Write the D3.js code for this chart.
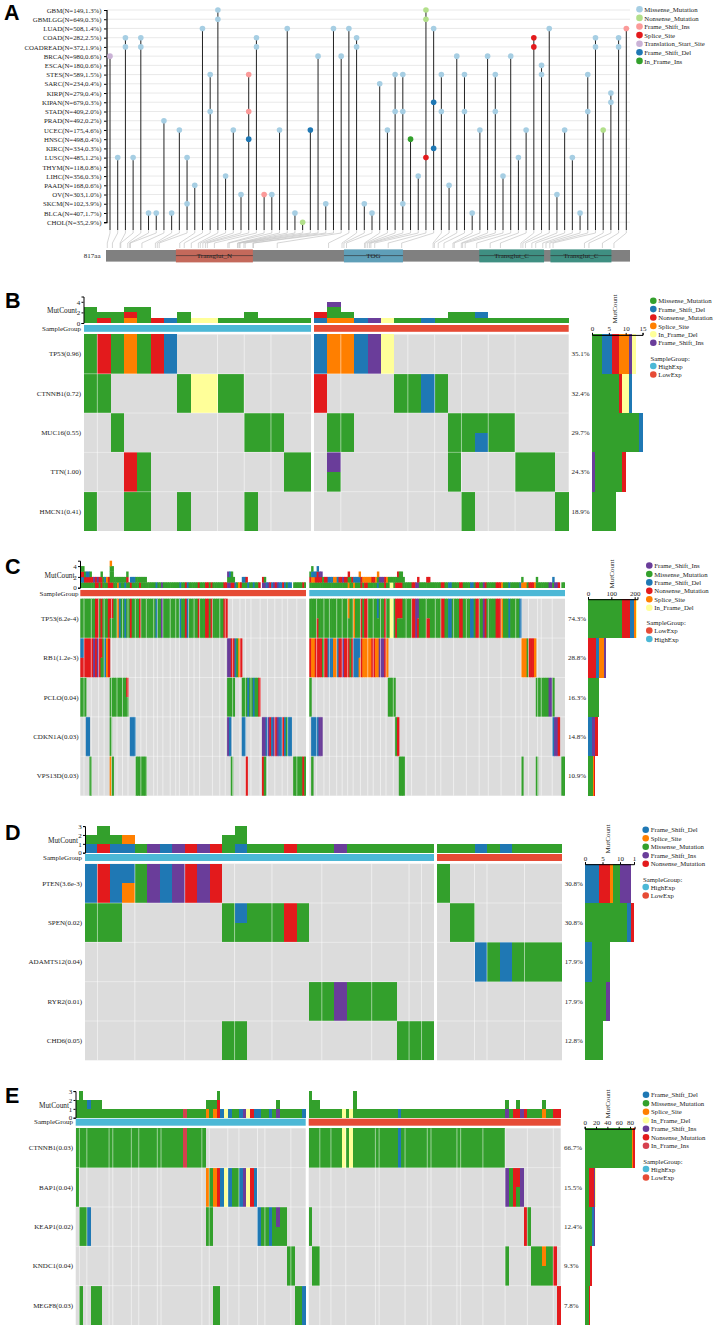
<!DOCTYPE html>
<html>
<head>
<meta charset="utf-8">
<script src="https://cdn.jsdelivr.net/npm/d3@7"></script>
<style>
  body { margin: 0; background: #fff; }
  text { font-family: "Liberation Serif", serif; fill: #222; }
  .panel-letter { font-family: "Liberation Sans", sans-serif; font-weight: bold; font-size: 21.5px; fill: #000; }
</style>
</head>
<body>
<div id="root"></div>
<script>
// ---- panel A data
const cancers = ["GBM(N=149,1.3%)", "GBMLGG(N=649,0.3%)", "LUAD(N=508,1.4%)", "COAD(N=282,2.5%)", "COADREAD(N=372,1.9%)", "BRCA(N=980,0.6%)", "ESCA(N=180,0.6%)", "STES(N=589,1.5%)", "SARC(N=234,0.4%)", "KIRP(N=279,0.4%)", "KIPAN(N=679,0.3%)", "STAD(N=409,2.0%)", "PRAD(N=492,0.2%)", "UCEC(N=175,4.6%)", "HNSC(N=498,0.4%)", "KIRC(N=334,0.3%)", "LUSC(N=485,1.2%)", "THYM(N=118,0.8%)", "LIHC(N=356,0.3%)", "PAAD(N=168,0.6%)", "OV(N=303,1.0%)", "SKCM(N=102,3.9%)", "BLCA(N=407,1.7%)", "CHOL(N=35,2.9%)"];
// one entry per lollipop column: "<cancer index><type>"
const lolliCols = ["5t", "16m", "3m 4m", "16m", "3m 4m", "22m", "22m", "12m", "22m", "13m", "16m 21m", "19m", "2m", "7m 11m", "0m 1m", "18m", "13m", "20m", "7i 11i 14d", "3m 4m", "20i", "20m", "13m", "2m", "22m", "23n", "13d", "5m", "21m", "2m", "5m", "2m", "3m 4m",
  "21m", "22m", "8m", "13m", "7m 11m", "7m 11m 21m", "14f", "18m", "0n 1n 16s", "2m 10d 15d", "7m 11m", "19m", "5m", "7m 11m", "22m", "13m", "5m", "7m 11m", "18m", "5m", "16m", "13m", "3s 4s", "6m 7m", "2m", "20m", "13m", "16m", "22m", "7m 11m", "3m 4m", "13n", "9m 10m", "3m 4m", "2i"];
const lolliAA = [2, 10, 22, 23, 34, 37, 38, 56, 77, 80, 83, 115, 122, 133, 144, 147, 151, 155, 158, 169, 190, 192, 205, 206, 208, 209, 215, 217, 229, 230, 267, 347, 368, 371, 375, 403, 405, 408, 411, 413, 419, 440, 461, 510, 512, 518, 527, 541, 543, 554, 556, 560, 578, 599, 615, 647, 650, 654, 664, 670, 681, 686, 692, 697, 746, 753, 774, 792];
const domainNames = ["Transglut_N", "TOG", "Transglut_C", "Transglut_C"];
const domainStart = [109, 371, 582, 693];
const domainEnd = [229, 463, 683, 788];
const proteinLength = 817;
const lolliLegend = [["m", "Missense_Mutation"], ["n", "Nonsense_Mutation"], ["i", "Frame_Shift_Ins"], ["s", "Splice_Site"], ["t", "Translation_Start_Site"], ["d", "Frame_Shift_Del"], ["f", "In_Frame_Ins"]];

// ---- oncoprint data: runs of "<type(s)><count>", "@n" jumps to sample n,
// two letters in a cell = top half / bottom half
const bGenes = ["TP53(0.96)", "CTNNB1(0.72)", "MUC16(0.55)", "TTN(1.00)", "HMCN1(0.41)"];
const bPct = ["35.1%", "32.4%", "29.7%", "24.3%", "18.9%"];
const bHigh = ["M1 N1 M1 S1 M1 N1 F1", "M2 @7 M1 I2 M2", "@2 M1 @12 M3", "@3 N1 M1 @15 M2", "M1 @3 M2 @7 M1 @12 M1"];
const bLow = ["F1 S2 F1 P1 I1", "N1 @6 M2 F1 M1", "@1 M2 @10 M2 MF1 M2", "@1 PM1 @10 M1 @15 M3", "@11 M1 @18 M1"];
const bSide = [["M3", "F3", "N2", "S3", "P1", "I1"], ["M8", "N1", "I2", "F1"], ["M14", "F1"], ["P1", "M8", "N1"], ["M7"]];
const bLegend = ["M", "F", "N", "S", "I", "P"];
const bGapsHigh = [1, 10, 12, 14];
const bGapsLow = [2, 7, 9, 11, 13, 15];

const cGenes = ["TP53(6.2e-4)", "RB1(1.2e-3)", "PCLO(0.04)", "CDKN1A(0.03)", "VPS13D(0.03)"];
const cPct = ["74.3%", "28.8%", "16.3%", "14.8%", "10.9%"];
const cLow = [
  "M8 N2 M1 N1 M3 N1 NM2 M2 S1 F1 M2 F1 M2 N1 M4 N1 M8 F1 M2 P1 M9 F1 M2 N1 F1 M5 N1 M3 N2 M1 N1 M4 M2 N2",
  "FN2 N5 P1 N1 P1 N1 NM1 M1 F1 S1 N1 @80 P2 N2 F1 M1 S1 N1",
  "M3 @16 M9 NM1 @80 M4 @88 M3 F1 M2 F1 M2 N1",
  "@3 F2 @16 M1 @27 F3 @80 P1 F1 @88 F2 @99 P2 F1 P1 N1 F1 P1 N1 P1 F2 N1 F1 M1 F2",
  "@5 M1 @16 S1 M1 @30 M6 @82 M1 @90 N1 @99 N1 M1 @116 M5 N1 M1"];
const cHigh = [
  "M4 MN1 M16 SM1 M2 S1 M3 N1 M1 N2 M5 FM1 M3 N1 M2 I2 M1 N1 NM3 M5 N2 P1 PN1 M4 MN2 M6 N2 M2 F2 M4 N2 M4 F2 M1 N2 M2 P1 N1 M5 N3 S1 M3 F1 M5 F1",
  "N1 S2 N4 M1 N2 F3 S2 F1 N2 P1 N1 N2 M1 N1 F3 FS1 N1 S5 N2 S2 P3 N1 S1 @116 S3 M1 N3 S1",
  "M1 @43 M4 @124 M7 P2 M1",
  "@1 F4 P2 @47 M1 N1 @133 F1 P2 N1",
  "@1 M1 @49 M3 @116 M1 @124 M1 @138 M2"];
const cSide = [["M144", "N37", "F16", "S10", "I4"], ["N36", "F10", "S21", "P11"], ["M46", "P3"], ["F17", "P14", "N11"], ["M21", "S3", "N7"]];
const cLegend = ["P", "M", "F", "N", "S", "I"];
const cGapsLow = [2, 6, 10, 13, 17, 20, 23, 26, 30, 33, 36, 40, 42, 45, 49, 52, 54, 59, 62, 65, 72, 76, 79, 83, 87, 90, 93, 98, 102, 106, 110, 113, 118];
const cGapsHigh = [4, 8, 11, 15, 18, 21, 24, 28, 32, 35, 39, 42, 46, 53, 56, 64, 69, 72, 79, 86, 93, 98, 105, 113, 116, 120, 125, 127, 133];

const dGenes = ["PTEN(3.6e-3)", "SPEN(0.02)", "ADAMTS12(0.04)", "RYR2(0.01)", "CHD6(0.05)"];
const dPct = ["30.8%", "30.8%", "17.9%", "17.9%", "12.8%"];
const dHigh = ["F1 N1 F1 FS1 M1 P1 F1 P1 N1 P1 N1", "M1 MM1 M1 @11 M1 FM1 M3 N1 M1", "", "@18 M2 P1 M4", "@11 M2 @25 M3"];
const dLow = ["M1", "@1 M2", "@3 F1 M1 F1 M4", "", ""];
const dSide = [["F4", "N3", "S1", "M2", "P3"], ["M12", "F1", "N1"], ["F2", "M5"], ["M6", "P1"], ["M5"]];
const dLegend = ["F", "S", "M", "P", "N"];
const dGapsHigh = [1, 4, 8, 12, 15, 19, 23, 26, 27];
const dGapsLow = [3, 4, 7];

const eGenes = ["CTNNB1(0.03)", "BAP1(0.04)", "KEAP1(0.02)", "KNDC1(0.04)", "MEGF8(0.03)"];
const ePct = ["66.7%", "15.5%", "12.4%", "9.3%", "7.8%"];
const eHigh = ["M29 X1 M5", "M1 @35 S1 M1 S1 NN1 F1 I1 F1 M2 F1 P1 I1 N1 F1", "@1 M2 F1 @35 M2 @49 F1 M2 F1 M1 PM1 M2", "@57 M2", "@1 M1 @4 M3 @37 M2 @59 M2 F1"];
const eLow = ["MM1 M8 I1 M1 I1 MMM1 M11 F1 M28", "@53 P1 M1 N1 NM1 P1", "M1 @58 N1 M1", "@1 M2 @53 M1 @60 M3 SM1 M2 N1", "@67 N1"];
const eSide = [["M84", "S2", "N2"], ["M8", "N8", "P3", "I1"], ["M13", "F3", "P2"], ["M10", "N3"], ["M8", "N2"]];
const eLegend = ["F", "M", "S", "I", "P", "N", "X"];
const eGapsHigh = [1, 3, 9, 10, 15, 17, 22, 23, 34, 36, 41, 44, 49, 51, 58];
const eGapsLow = [3, 6, 10, 18, 19, 26, 32, 33, 40, 41, 47, 53, 59, 66];

const typeNames = { M: "Missense_Mutation", F: "Frame_Shift_Del", N: "Nonsense_Mutation", S: "Splice_Site", I: "In_Frame_Del", P: "Frame_Shift_Ins", X: "In_Frame_Ins" };
const typeColors = { M: "#33a02c", F: "#1f78b4", N: "#e31a1c", S: "#ff7f00", I: "#ffff99", P: "#6a3d9a", X: "#d6404e" };
const lolliColors = { m: "#a6cee3", n: "#b2df8a", i: "#fb9a99", s: "#e31a1c", t: "#cab2d6", d: "#1f78b4", f: "#33a02c" };
const groupColors = { HighExp: "#4cb8d6", LowExp: "#e64b35" };

const svg = d3.select("#root").append("svg")
  .attr("width", 713)
  .attr("height", 1328);

const fontSize = 7;
const legendFont = 6.75;

const letter = (txt, x, y) => {
  svg.append("text").attr("class", "panel-letter").attr("x", x).attr("y", y).text(txt);
};

// legend dots with labels, one row per entry
const drawLegend = (entries, x, y, step, textX) => {
  const g = svg.append("g");
  entries.forEach((e, i) => {
    g.append("circle").attr("cx", x).attr("cy", y + i * step).attr("r", 3.3).attr("fill", e[1]);
    g.append("text").attr("x", textX).attr("y", y + i * step + 2.6)
      .attr("font-size", legendFont).text(e[0]);
  });
};

const styleAxis = (g) => {
  g.selectAll("text").attr("font-size", fontSize).attr("font-family", "Liberation Serif").attr("fill", "#222");
  g.selectAll("path,line").attr("stroke", "#000");
};

// ---- panel A
const drawLollipop = () => {
  const rowY = d3.scalePoint().domain(d3.range(cancers.length)).range([10, 222.2]);
  const colX = d3.scalePoint().domain(d3.range(lolliCols.length)).range([110, 626.3]);
  const aaX = d3.scaleLinear().domain([0, proteinLength]).range([106, 630]);
  const stemBottom = 230;
  const g = svg.append("g");

  g.selectAll(".grid").data(cancers.map((d, i) => i)).join("line")
    .attr("x1", 107).attr("x2", 630)
    .attr("y1", d => rowY(d)).attr("y2", d => rowY(d))
    .attr("stroke", "#e6e6e6").attr("stroke-width", 0.9);

  const axis = g.append("g").attr("transform", "translate(106.5,0)")
    .call(d3.axisLeft(rowY).tickSize(2.5).tickPadding(2.5).tickFormat(i => cancers[i]));
  styleAxis(axis);
  axis.selectAll("text").attr("font-size", 6.8);
  axis.select(".domain").attr("stroke-width", 1.2);

  const cols = lolliCols.map((s, i) => ({
    i,
    pts: s.split(" ").map(t => ({ row: +t.slice(0, -1), type: t.slice(-1) }))
  }));

  // thin connectors down to the protein bar
  const link = d3.line();
  g.selectAll(".conn").data(cols).join("path")
    .attr("d", d => link([
      [colX(d.i), stemBottom], [colX(d.i), stemBottom + 3],
      [aaX(lolliAA[d.i]), stemBottom + 13], [aaX(lolliAA[d.i]), stemBottom + 18]
    ]))
    .attr("fill", "none").attr("stroke", "#c4c4c4").attr("stroke-width", 0.7);

  g.selectAll(".stem").data(cols).join("line")
    .attr("x1", d => colX(d.i)).attr("x2", d => colX(d.i))
    .attr("y1", d => rowY(d3.min(d.pts, p => p.row))).attr("y2", stemBottom)
    .attr("stroke", "#222").attr("stroke-width", 1);

  cols.forEach(c => {
    g.selectAll(null).data(c.pts).join("circle")
      .attr("cx", colX(c.i)).attr("cy", p => rowY(p.row)).attr("r", 2.8)
      .attr("fill", p => lolliColors[p.type]);
  });

  // protein bar
  g.append("rect").attr("x", aaX(0)).attr("y", 250).attr("width", aaX(proteinLength) - aaX(0)).attr("height", 11.6).attr("fill", "#808080");
  const domColors = ["#c4695b", "#5f9fb8", "#3f8f82", "#3f8f82"];
  domainNames.forEach((name, i) => {
    g.append("rect").attr("x", aaX(domainStart[i])).attr("y", 249.4)
      .attr("width", aaX(domainEnd[i]) - aaX(domainStart[i])).attr("height", 13)
      .attr("fill", domColors[i]);
    g.append("line").attr("x1", aaX(domainStart[i])).attr("x2", aaX(domainEnd[i]))
      .attr("y1", 255.6).attr("y2", 255.6).attr("stroke", "#2a2a2a").attr("stroke-width", 0.6);
    g.append("text").attr("x", (aaX(domainStart[i]) + aaX(domainEnd[i])) / 2).attr("y", 258.2)
      .attr("text-anchor", "middle").attr("font-size", fontSize).text(name);
  });
  g.append("text").attr("x", 100.5).attr("y", 258).attr("text-anchor", "end").attr("font-size", fontSize).text(proteinLength + "aa");

  drawLegend(lolliLegend.map(d => [d[1], lolliColors[d[0]]]), 639.5, 9.3, 8.6, 644.3);
};

// "M2 @7 FS1" -> array of per sample strings
const parseRuns = (str, n) => {
  const cells = d3.range(n).map(() => "");
  let pos = 0;
  str.split(" ").filter(t => t).forEach(t => {
    if (t[0] === "@") {
      pos = +t.slice(1);
      return;
    }
    const m = t.match(/^([A-Z]+)(\d+)$/);
    for (let k = 0; k < +m[2]; k++) {
      if (pos < n) cells[pos] = m[1];
      pos++;
    }
  });
  return cells;
};

// ---- panels B to E
const drawOnco = (o) => {
  const g = svg.append("g");
  const rowY = d3.scaleBand().domain(d3.range(o.genes.length)).range([o.heatTop, o.heatBottom]);
  const topY = d3.scaleLinear().domain([0, o.topMax]).range([o.topBase, o.topBase - o.topMax * o.topUnit]);
  // narrow columns are left soft so they blend, wide ones stay crisp
  const edge = o.soft ? "auto" : "crispEdges";
  const extra = o.soft ? 0.6 : 0;

  g.append("text").attr("x", o.labelX).attr("y", o.groupY + 5.6).attr("text-anchor", "end").attr("font-size", fontSize).text("SampleGroup");
  g.append("text").attr("x", o.labelX - 4).attr("y", o.topBase - 9.6).attr("text-anchor", "end").attr("font-size", 7.3).text("MutCount");

  o.groups.forEach(gr => {
    const x = d3.scaleBand().domain(d3.range(gr.n)).range(gr.range);
    const rows = gr.rows.map(r => parseRuns(r, gr.n));
    const w = x.bandwidth();

    g.append("rect").attr("x", gr.range[0]).attr("y", o.groupY).attr("width", gr.range[1] - gr.range[0]).attr("height", o.groupH)
      .attr("fill", groupColors[gr.name]);
    g.append("rect").attr("x", gr.range[0]).attr("y", o.heatTop).attr("width", gr.range[1] - gr.range[0]).attr("height", o.heatBottom - o.heatTop)
      .attr("fill", "#dcdcdc");

    // mutated cells, split when a sample has more than one hit
    const cells = [];
    rows.forEach((row, r) => {
      row.forEach((c, s) => {
        c.split("").forEach((t, k) => cells.push({ r, s, t, k, parts: c.length }));
      });
    });
    g.append("g").attr("shape-rendering", edge).selectAll("rect").data(cells).join("rect")
      .attr("x", d => x(d.s)).attr("width", d => Math.min(w + extra, gr.range[1] - x(d.s)))
      .attr("y", d => rowY(d.r) + d.k * rowY.bandwidth() / d.parts)
      .attr("height", d => rowY.bandwidth() / d.parts)
      .attr("fill", d => typeColors[d.t]);

    // top count bars
    const stacks = [];
    d3.range(gr.n).forEach(s => {
      const fix = gr.stackFix && gr.stackFix[s];
      const seq = fix || rows.map(row => row[s]).join("");
      seq.split("").forEach((t, k) => stacks.push({ s, t, k }));
    });
    g.append("g").attr("shape-rendering", edge).selectAll("rect").data(stacks).join("rect")
      .attr("x", d => x(d.s)).attr("width", d => Math.min(w + extra, gr.range[1] - x(d.s)))
      .attr("y", d => topY(d.k + 1))
      .attr("height", d => topY(d.k) - topY(d.k + 1) + (o.soft ? 0.3 : 0))
      .attr("fill", d => typeColors[d.t]);

    // faint seams between samples
    g.append("g").selectAll("line").data(gr.gaps).join("line")
      .attr("x1", d => x(d)).attr("x2", d => x(d))
      .attr("y1", o.heatTop).attr("y2", o.heatBottom)
      .attr("stroke", "#fff").attr("stroke-opacity", 0.65).attr("stroke-width", 0.8);
  });

  g.selectAll(".rowline").data(d3.range(1, o.genes.length)).join("line")
    .attr("x1", o.groups[0].range[0]).attr("x2", o.groups[1].range[1])
    .attr("y1", d => rowY(d)).attr("y2", d => rowY(d))
    .attr("stroke", "#fff").attr("stroke-opacity", 0.7).attr("stroke-width", 0.6);

  g.selectAll(".gene").data(o.genes).join("text")
    .attr("x", o.labelX).attr("y", (d, i) => rowY(i) + rowY.bandwidth() / 2 + 2.4)
    .attr("text-anchor", "end").attr("font-size", fontSize).text(d => d);

  g.selectAll(".pct").data(o.pct).join("text")
    .attr("x", o.pctX).attr("y", (d, i) => rowY(i) + rowY.bandwidth() / 2 + 2.4)
    .attr("font-size", fontSize).text(d => d);

  const topAxis = g.append("g").attr("transform", "translate(" + o.topAxisX + ",0)")
    .call(d3.axisLeft(topY).tickValues(o.topTicks).tickSize(2).tickPadding(1.2).tickFormat(d3.format("d")));
  styleAxis(topAxis);
  topAxis.select(".domain").attr("stroke-width", 1);

  // side bars per gene
  const sideX = d3.scaleLinear().domain([0, o.sideMax]).range([o.sideX, o.sideX + o.sideMax * o.sideUnit]);
  o.side.forEach((parts, r) => {
    let sum = 0;
    const segs = parts.map(p => {
      const v = +p.slice(1);
      const seg = { t: p[0], from: sum, to: sum + v };
      sum += v;
      return seg;
    });
    g.append("g").selectAll("rect").data(segs).join("rect")
      .attr("shape-rendering", "crispEdges")
      .attr("x", d => sideX(d.from)).attr("width", d => sideX(d.to) - sideX(d.from))
      .attr("y", rowY(r)).attr("height", rowY.bandwidth())
      .attr("fill", d => typeColors[d.t]);
  });

  const sideAxis = g.append("g").attr("transform", "translate(0," + (o.heatTop + 0.5) + ")")
    .call(d3.axisTop(sideX).tickValues(o.sideTicks).tickSize(2).tickPadding(1.5)
      .tickFormat((d, i) => o.sideTickText ? o.sideTickText[i] : d));
  styleAxis(sideAxis);
  sideAxis.select(".domain").attr("stroke-width", 1);

  g.append("text")
    .attr("transform", "translate(" + o.sideLabelX + "," + o.sideLabelY + ") rotate(-90)")
    .attr("text-anchor", "middle").attr("font-size", fontSize).text("MutCount");

  drawLegend(o.legend.map(k => [typeNames[k], typeColors[k]]), o.legendX, o.legendY, o.legendStep, o.legendX + 5);
  g.append("text").attr("x", o.legendX - 2.8).attr("y", o.sampleY).attr("font-size", legendFont).text("SampleGroup:");
  drawLegend(o.groups.map(d => d.name).sort((a, b) => o.groupOrder.indexOf(a) - o.groupOrder.indexOf(b)).map(n => [n, groupColors[n]]),
    o.legendX, o.sampleY + 5.5, 8.5, o.legendX + 5);
};

drawLollipop();

drawOnco({
  genes: bGenes, pct: bPct, side: bSide, legend: bLegend, groupOrder: ["HighExp", "LowExp"],
  groups: [
    { name: "HighExp", n: 17, range: [84, 311], rows: bHigh, gaps: bGapsHigh },
    { name: "LowExp", n: 19, range: [314, 568.7], rows: bLow, gaps: bGapsLow, stackFix: { 1: "SMMP" } }
  ],
  heatTop: 334.4, heatBottom: 531, topBase: 323, topUnit: 5.3, topMax: 5, topTicks: [0, 2, 4], topAxisX: 83.5,
  groupY: 325, groupH: 6.8, labelX: 81, pctX: 571.5,
  sideX: 592, sideUnit: 3.37, sideMax: 15, sideTicks: [0, 5, 10, 15], sideLabelX: 617, sideLabelY: 309,
  legendX: 653.3, legendY: 300.7, legendStep: 8.4, sampleY: 360.5
});

drawOnco({
  genes: cGenes, pct: cPct, side: cSide, legend: cLegend, groupOrder: ["LowExp", "HighExp"], soft: true,
  groups: [
    { name: "LowExp", n: 123, range: [80.3, 306], rows: cLow, gaps: cGapsLow },
    { name: "HighExp", n: 140, range: [309.3, 565], rows: cHigh, gaps: cGapsHigh }
  ],
  heatTop: 598.7, heatBottom: 795.7, topBase: 587.7, topUnit: 5.4, topMax: 5, topTicks: [0, 2, 4], topAxisX: 80,
  groupY: 590, groupH: 6.2, labelX: 78.5, pctX: 568,
  sideX: 588, sideUnit: 0.2333, sideMax: 212, sideTicks: [0, 100, 200], sideLabelX: 614, sideLabelY: 574,
  legendX: 649.3, legendY: 565.5, legendStep: 8.45, sampleY: 625
});

drawOnco({
  genes: dGenes, pct: dPct, side: dSide, legend: dLegend, groupOrder: ["HighExp", "LowExp"],
  groups: [
    { name: "HighExp", n: 28, range: [85, 434], rows: dHigh, gaps: dGapsHigh },
    { name: "LowExp", n: 10, range: [437, 562], rows: dLow, gaps: dGapsLow }
  ],
  heatTop: 863.7, heatBottom: 1060.3, topBase: 852.7, topUnit: 8.87, topMax: 3, topTicks: [0, 1, 2, 3], topAxisX: 85,
  groupY: 854, groupH: 7, labelX: 82, pctX: 564.7,
  sideX: 585, sideUnit: 3.5, sideMax: 14, sideTicks: [0, 5, 10, 14], sideTickText: ["0", "5", "10", "1"], sideLabelX: 610, sideLabelY: 839,
  legendX: 645.7, legendY: 829.7, legendStep: 8.5, sampleY: 881.5
});

drawOnco({
  genes: eGenes, pct: ePct, side: eSide, legend: eLegend, groupOrder: ["HighExp", "LowExp"],
  groups: [
    { name: "HighExp", n: 62, range: [75.7, 305.7], rows: eHigh, gaps: eGapsHigh },
    { name: "LowExp", n: 68, range: [308.7, 560.7], rows: eLow, gaps: eGapsLow }
  ],
  heatTop: 1128.3, heatBottom: 1325, topBase: 1117.7, topUnit: 8.87, topMax: 3, topTicks: [0, 1, 2, 3], topAxisX: 75.5,
  groupY: 1118.7, groupH: 7, labelX: 73, pctX: 564,
  sideX: 584.7, sideUnit: 0.5667, sideMax: 88, sideTicks: [0, 20, 40, 60, 80], sideLabelX: 610, sideLabelY: 1104,
  legendX: 646, legendY: 1094.7, legendStep: 8.5, sampleY: 1163.5
});

letter("A", 4, 19.5);
letter("B", 5, 308);
letter("C", 5, 574);
letter("D", 5, 840);
letter("E", 5, 1103);
</script>
</body>
</html>
